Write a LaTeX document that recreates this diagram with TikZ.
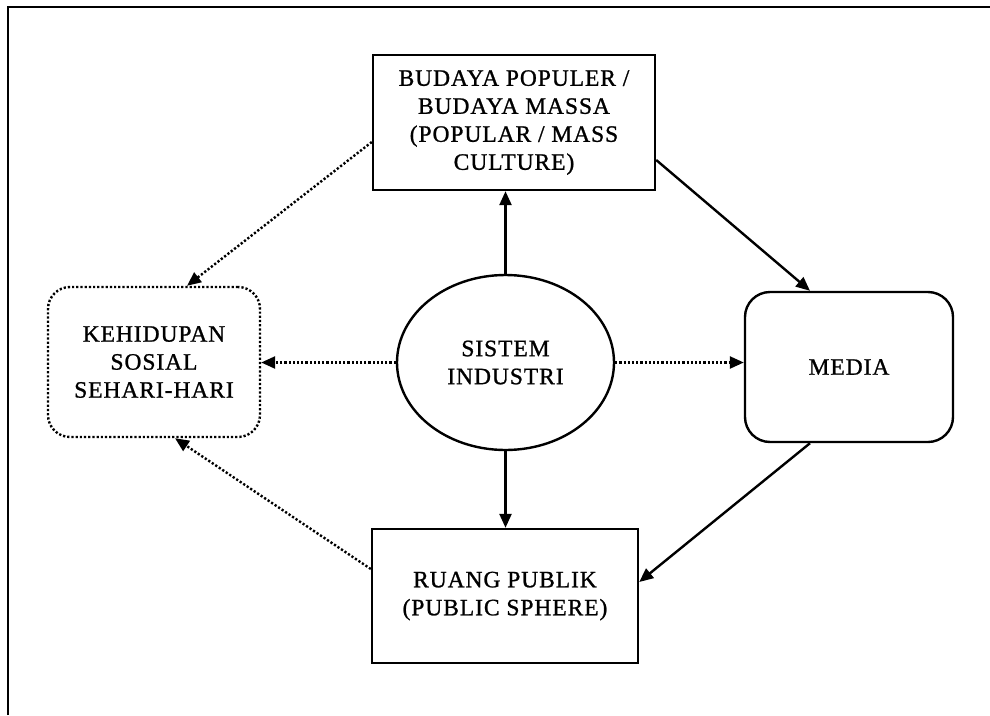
\documentclass[tikz,border=0pt]{standalone}
\usepackage{fontspec}
\setmainfont{Liberation Serif}[LetterSpace=4,FakeBold=1]
\usetikzlibrary{arrows.meta,shapes.geometric}

\tikzset{
  lbl/.style={align=center, font=\fontsize{23.5}{28}\selectfont, inner sep=0pt},
  frameline/.style={line width=2.4pt},
  boxsq/.style={lbl, draw, line width=2.4pt, rectangle},
  boxround/.style={lbl, draw, line width=2.4pt, rectangle, rounded corners=25pt},
  boxdot/.style={lbl, draw, line width=2.4pt, rectangle, rounded corners=22pt,
                 dash pattern=on 2.2pt off 2pt},
  oval/.style={lbl, draw, line width=2.4pt, ellipse},
  tip/.style={-{Triangle[length=14pt,width=12pt]}},
  solidarrow/.style={tip, line width=2.4pt},
  dotarrow/.style={tip, line width=2.4pt, dash pattern=on 2.2pt off 2pt},
}

\begin{document}
\begin{tikzpicture}[x=1pt, y=-1pt]
  \useasboundingbox (0,0) rectangle (990,715);

  % open frame: left and top edges
  \draw[frameline] (8,715) -- (8,7) -- (990,7);

  % nodes
  \node[boxsq, minimum width=282pt, minimum height=135pt] (pop) at (514,122.5)
    {BUDAYA POPULER /\\BUDAYA MASSA\\(POPULAR / MASS\\CULTURE)};
  \node[oval, minimum width=217pt, minimum height=175pt] (ind) at (505.5,362.5)
    {SISTEM\\INDUSTRI};
  \node[boxround, minimum width=208pt, minimum height=150pt] (med) at (849,367)
    {MEDIA};
  \node[boxdot, minimum width=212pt, minimum height=150pt] (keh) at (154,362)
    {KEHIDUPAN\\SOSIAL\\SEHARI-HARI};
  \node[boxsq, minimum width=266pt, minimum height=134pt] (rua) at (505,596)
    {RUANG PUBLIK\\(PUBLIC SPHERE)};

  % solid connectors
  \draw[solidarrow] (ind.north) -- (ind.north |- pop.south);
  \draw[solidarrow] (ind.south) -- (ind.south |- rua.north);
  \draw[solidarrow] ([yshift=-37.5pt]pop.east) -- ([xshift=-39pt]med.north);
  \draw[solidarrow] ([xshift=-39pt]med.south) -- ([yshift=14pt]rua.east);

  % dotted connectors
  \draw[dotarrow] (ind.west) -- (ind.west -| keh.east);
  \draw[dotarrow] (ind.east) -- (ind.east -| med.west);
  \draw[dotarrow] ([yshift=-19.5pt]pop.west) -- ([xshift=33pt]keh.north);
  \draw[dotarrow] ([yshift=27pt]rua.west) -- ([xshift=21pt]keh.south);
\end{tikzpicture}
\end{document}
